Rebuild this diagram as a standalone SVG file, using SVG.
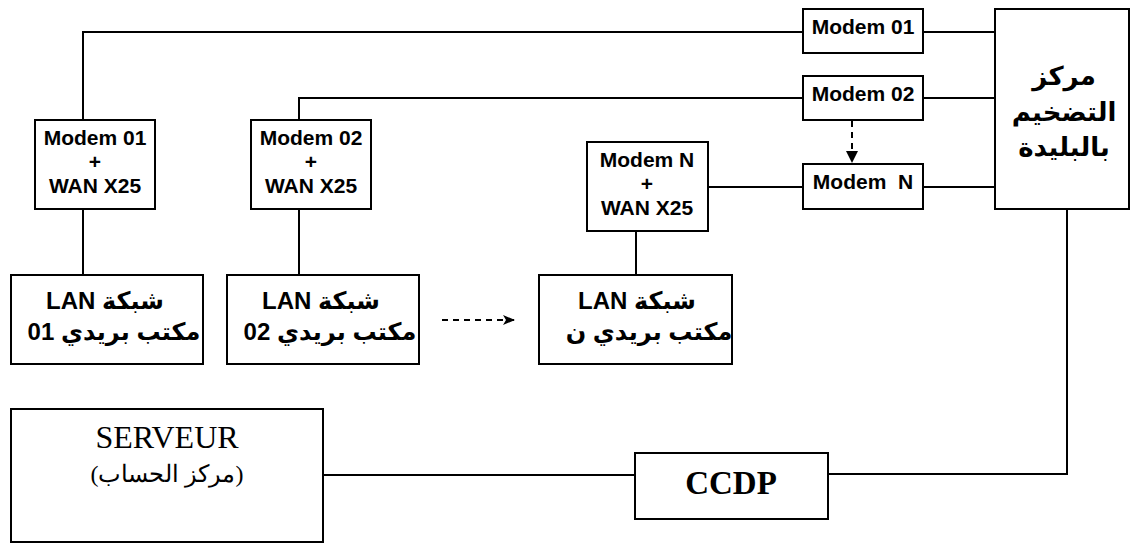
<svg xmlns="http://www.w3.org/2000/svg" width="1131" height="543" viewBox="0 0 1131 543">
  <style>
    .box { fill: #ffffff; stroke: #000000; stroke-width: 2; }
    .wire { fill: none; stroke: #000000; stroke-width: 2; }
    .dash { fill: none; stroke: #000000; stroke-width: 2; stroke-dasharray: 6 5; }
    .lbl { font-family: "Liberation Sans", Arial, "DejaVu Sans", sans-serif; font-weight: bold; font-size: 21px; fill: #000; text-anchor: middle; }
    .ar { font-family: "Liberation Sans", Arial, "DejaVu Sans", sans-serif; font-weight: bold; font-size: 24px; fill: #000; text-anchor: middle; direction: rtl; unicode-bidi: embed; }
    .big { font-size: 26px; }
    .serif { font-family: "Liberation Serif", "Times New Roman", "DejaVu Serif", serif; fill: #000; text-anchor: middle; }
  </style>
  <defs>
    <marker id="tri" viewBox="0 0 10 10" refX="10" refY="5" markerWidth="8" markerHeight="6" markerUnits="strokeWidth" orient="auto">
      <path d="M0,0 L10,5 L0,10 Z" fill="#000"/>
    </marker>
    <marker id="stealth" viewBox="0 0 12 10" refX="12" refY="5" markerWidth="7" markerHeight="5" markerUnits="strokeWidth" orient="auto">
      <path d="M0,0 L12,5 L0,10 L3,5 Z" fill="#000"/>
    </marker>
  </defs>

  <rect width="1131" height="543" fill="#ffffff"/>

  <!-- connectors -->
  <g id="connectors">
    <polyline class="wire" points="803,32 83,32 83,120"/>
    <line class="wire" x1="923" y1="32" x2="995" y2="32"/>
    <polyline class="wire" points="803,98 299,98 299,120"/>
    <line class="wire" x1="923" y1="98" x2="995" y2="98"/>
    <line class="wire" x1="708" y1="187" x2="803" y2="187"/>
    <line class="wire" x1="923" y1="187" x2="995" y2="187"/>
    <line class="dash" x1="852" y1="121" x2="852" y2="163" marker-end="url(#tri)"/>
    <line class="wire" x1="83" y1="209" x2="83" y2="275"/>
    <line class="wire" x1="299" y1="209" x2="299" y2="275"/>
    <line class="wire" x1="636" y1="231" x2="636" y2="275"/>
    <line class="dash" x1="442" y1="320" x2="515" y2="320" stroke-dasharray="8 6" marker-end="url(#stealth)"/>
    <polyline class="wire" points="1067,209 1067,474 828,474"/>
    <line class="wire" x1="635" y1="475" x2="323" y2="475"/>
  </g>

  <!-- modems on the center side -->
  <g id="modem-01">
    <rect class="box" x="803" y="9" width="120" height="44"/>
    <text class="lbl" x="863" y="34">Modem 01</text>
  </g>
  <g id="modem-02">
    <rect class="box" x="803" y="76" width="120" height="44"/>
    <text class="lbl" x="863" y="101">Modem 02</text>
  </g>
  <g id="modem-n">
    <rect class="box" x="803" y="164" width="120" height="45"/>
    <text class="lbl" x="863" y="189" xml:space="preserve">Modem  N</text>
  </g>

  <!-- amplification center -->
  <g id="center-blida">
    <rect class="box" x="995" y="9" width="134" height="200"/>
    <text class="ar big" x="1064" y="85">مركز</text>
    <text class="ar big" x="1064" y="121">التضخيم</text>
    <text class="ar big" x="1064" y="156">بالبليدة</text>
  </g>

  <!-- office side modems -->
  <g id="modem-wan-01">
    <rect class="box" x="35" y="120" width="120" height="89"/>
    <text class="lbl" x="95" y="145">Modem 01</text>
    <text class="lbl" x="95" y="169">+</text>
    <text class="lbl" x="95" y="193">WAN X25</text>
  </g>
  <g id="modem-wan-02">
    <rect class="box" x="251" y="120" width="120" height="89"/>
    <text class="lbl" x="311" y="145">Modem 02</text>
    <text class="lbl" x="311" y="169">+</text>
    <text class="lbl" x="311" y="193">WAN X25</text>
  </g>
  <g id="modem-wan-n">
    <rect class="box" x="587" y="142" width="121" height="89"/>
    <text class="lbl" x="647" y="167">Modem N</text>
    <text class="lbl" x="647" y="191">+</text>
    <text class="lbl" x="647" y="215">WAN X25</text>
  </g>

  <!-- post office LANs -->
  <g id="lan-01">
    <rect class="box" x="11" y="275" width="192" height="89"/>
    <text class="ar" x="105" y="309">شبكة LAN</text>
    <text class="ar" x="114" y="340">مكتب بريدي 01</text>
  </g>
  <g id="lan-02">
    <rect class="box" x="227" y="275" width="192" height="89"/>
    <text class="ar" x="321" y="309">شبكة LAN</text>
    <text class="ar" x="330" y="340">مكتب بريدي 02</text>
  </g>
  <g id="lan-n">
    <rect class="box" x="539" y="275" width="193" height="89"/>
    <text class="ar" x="637" y="309">شبكة LAN</text>
    <text class="ar" x="649" y="340">مكتب بريدي ن</text>
  </g>

  <!-- server and CCDP -->
  <g id="serveur">
    <rect class="box" x="11" y="409" width="312" height="133"/>
    <text class="serif" x="167" y="448" font-size="32">SERVEUR</text>
    <text class="serif" x="167" y="482" font-size="24" direction="rtl">(مركز الحساب)</text>
  </g>
  <g id="ccdp">
    <rect class="box" x="635" y="453" width="193" height="66"/>
    <text class="serif" x="731" y="494" font-size="33" font-weight="bold">CCDP</text>
  </g>
</svg>
